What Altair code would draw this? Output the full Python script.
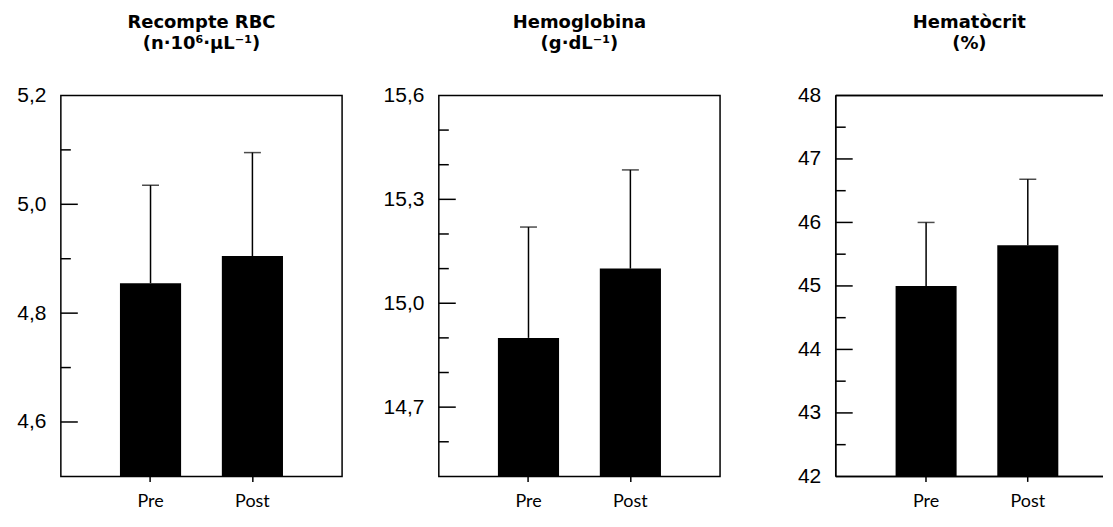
import altair as alt
import pandas as pd

cats = ["Pre", "Post"]

rbc_mean = [4.855, 4.905]
rbc_sd = [0.18, 0.19]
hb_mean = [14.90, 15.10]
hb_sd = [0.32, 0.285]
hct_mean = [45.0, 45.64]
hct_sd = [1.0, 1.04]

rbc_domain = [4.5, 5.2]
hb_domain = [14.5, 15.6]
hct_domain = [42, 48]

rbc_labels = [4.6, 4.8, 5.0, 5.2]
hb_labels = [14.7, 15.0, 15.3, 15.6]
hct_labels = [42, 43, 44, 45, 46, 47, 48]

rbc_major = [4.6, 4.8, 5.0]
rbc_minor = [4.7, 4.9, 5.1]
hb_major = [14.7, 15.0, 15.3]
hb_minor = [14.6, 14.8, 14.9, 15.1, 15.2, 15.4, 15.5]
hct_major = [43, 44, 45, 46, 47]
hct_minor = [42.5, 43.5, 44.5, 45.5, 46.5, 47.5]

rbc_title = ["Recompte RBC", "(n·10⁶·µL⁻¹)"]
hb_title = ["Hemoglobina", "(g·dL⁻¹)"]
hct_title = ["Hematòcrit", "(%)"]

W, H = 282, 382


def panel(title, means, sds, dom, labels, label_expr, major, minor, width=W,
          open_right=False, pad_outer=0.58, align=0.5):
    df = pd.DataFrame({"cond": cats, "mean": means,
                       "top": [m + s for m, s in zip(means, sds)]})
    xscale = alt.Scale(domain=cats, paddingInner=0.4, paddingOuter=pad_outer, align=align)
    xaxis = alt.Axis(title=None, labelAngle=0, labelFont="Lato", labelFontSize=18,
                     labelColor="black", ticks=True, tickSize=5, tickColor="black",
                     tickWidth=1.5, domain=False, grid=False, labelPadding=11)
    yscale = alt.Scale(domain=dom, zero=False, nice=False)
    yaxis = alt.Axis(title=None, values=labels, labelExpr=label_expr, ticks=False,
                     tickSize=0, domain=False, grid=False, labelFont="Liberation Sans",
                     labelFontSize=21, labelColor="black", labelPadding=15)

    def X():
        return alt.X("cond:N", sort=cats, scale=xscale, axis=xaxis)

    def Y(f):
        return alt.Y(f, scale=yscale, axis=yaxis, title=None)

    base = alt.Chart(df)
    bars = base.mark_bar(color="black").encode(x=X(), y=Y("mean:Q"), y2=alt.datum(dom[0]))
    err = base.mark_rule(color="black", strokeWidth=1.5).encode(x=X(), y=Y("mean:Q"), y2="top:Q")
    cap = base.mark_tick(color="black", thickness=1.5, size=17).encode(x=X(), y=Y("top:Q"))
    tmaj = alt.Chart(pd.DataFrame({"v": major})).mark_rule(color="black", strokeWidth=1.5).encode(
        y=Y("v:Q"), x=alt.value(0), x2=alt.value(17))
    tmin = alt.Chart(pd.DataFrame({"v": minor})).mark_rule(color="black", strokeWidth=1.5).encode(
        y=Y("v:Q"), x=alt.value(0), x2=alt.value(10))
    layers = [bars, err, cap, tmaj, tmin]
    props = dict(width=width, height=H,
                 title=alt.TitleParams(text=title, font="DejaVu Sans", fontSize=18,
                                       fontWeight="bold", color="black", anchor="middle",
                                       offset=32, lineHeight=21, frame="group"))
    if open_right:
        fr = alt.Chart(df).mark_rule(color="black", strokeWidth=1.5)
        layers += [
            fr.encode(x=alt.value(0), x2=alt.value(width), y=alt.value(0)),
            fr.encode(x=alt.value(0), x2=alt.value(width), y=alt.value(H)),
            fr.encode(x=alt.value(0), y=alt.value(0), y2=alt.value(H)),
        ]
        props["view"] = alt.ViewBackground(stroke="transparent")
    return alt.layer(*layers).properties(**props)


dec = "replace(format(datum.value, '.1f'), '.', ',')"
p1 = panel(rbc_title, rbc_mean, rbc_sd, rbc_domain, rbc_labels, dec, rbc_major, rbc_minor)
p2 = panel(hb_title, hb_mean, hb_sd, hb_domain, hb_labels, dec, hb_major, hb_minor)
p3 = panel(hct_title, hct_mean, hct_sd, hct_domain, hct_labels, "format(datum.value, 'd')",
           hct_major, hct_minor, width=268, open_right=True, pad_outer=0.514, align=0.5725)

inner = alt.hconcat(p1, p2, spacing=97, bounds="flush")
chart = alt.hconcat(inner, p3, spacing=75).properties(
    padding={"left": 8, "top": 4, "right": 0, "bottom": 0}
).configure_view(stroke="black", strokeWidth=1.5)

chart.save("out.html", embed_options={"renderer": "svg", "actions": False})
